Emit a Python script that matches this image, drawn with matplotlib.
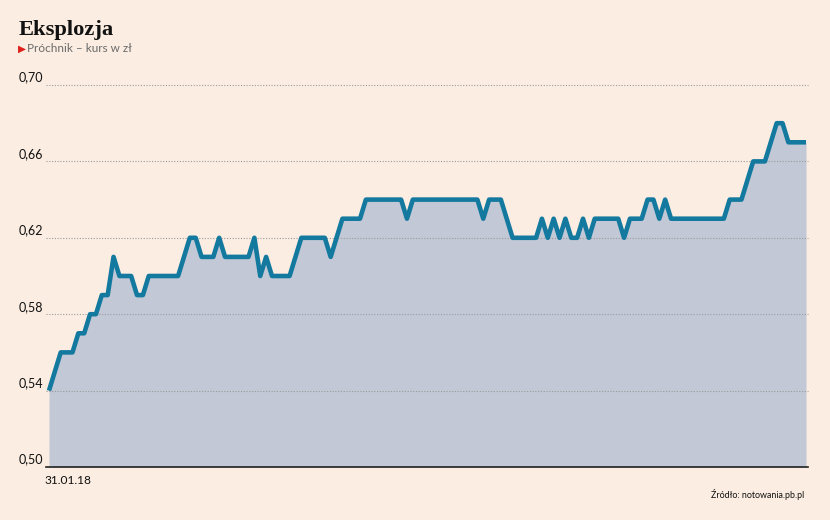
import matplotlib
matplotlib.use("Agg")
import matplotlib.pyplot as plt
import numpy as np

# ---- data (Próchnik share price, zł) ----
start_label = "31.01.18"
y_ticks = [0.50, 0.54, 0.58, 0.62, 0.66, 0.70]
y_tick_labels = ["0,50", "0,54", "0,58", "0,62", "0,66", "0,70"]

prices = (
    [0.54, 0.55, 0.56, 0.56, 0.56, 0.57, 0.57, 0.58, 0.58, 0.59,
     0.59, 0.61, 0.60, 0.60, 0.60, 0.59, 0.59, 0.60, 0.60, 0.60,
     0.60, 0.60, 0.60, 0.61, 0.62, 0.62, 0.61, 0.61, 0.61, 0.62,
     0.61, 0.61, 0.61, 0.61, 0.61, 0.62, 0.60, 0.61, 0.60, 0.60,
     0.60, 0.60, 0.61, 0.62, 0.62, 0.62, 0.62, 0.62, 0.61, 0.62,
     0.63, 0.63, 0.63, 0.63, 0.64, 0.64, 0.64, 0.64, 0.64, 0.64,
     0.64, 0.63, 0.64, 0.64, 0.64, 0.64, 0.64, 0.64, 0.64, 0.64,
     0.64, 0.64, 0.64, 0.64, 0.63, 0.64, 0.64, 0.64, 0.63, 0.62,
     0.62, 0.62, 0.62, 0.62, 0.63, 0.62, 0.63, 0.62, 0.63, 0.62,
     0.62, 0.63, 0.62, 0.63, 0.63, 0.63, 0.63, 0.63, 0.62, 0.63,
     0.63, 0.63, 0.64, 0.64, 0.63, 0.64, 0.63, 0.63, 0.63, 0.63,
     0.63, 0.63, 0.63, 0.63, 0.63, 0.63, 0.64, 0.64, 0.64, 0.65,
     0.66, 0.66, 0.66, 0.67, 0.68, 0.68, 0.67, 0.67, 0.67, 0.67]
)

BG = "#FBEDE1"
FILL = "#C2C8D6"
LINE = "#13799F"

fig = plt.figure(figsize=(8.3, 5.2), dpi=100, facecolor=BG)
ax = fig.add_axes([46 / 830, (520 - 467) / 520, 762 / 830, (467 - 85) / 520])
ax.set_facecolor(BG)

x = np.arange(len(prices))
ax.fill_between(x, 0.50, prices, color=FILL, linewidth=0, zorder=1)
ax.plot(x, prices, color=LINE, linewidth=3.3, solid_joinstyle="round",
        solid_capstyle="butt", zorder=3)

ax.set_xlim(-0.51, len(prices) - 1 + 0.34)
ax.set_ylim(0.50, 0.70)

for t in y_ticks[1:]:
    ax.axhline(t, color="#9a9a9a", linewidth=0.8, linestyle=(0, (1, 1.5)),
               zorder=2, clip_on=False)
ax.axhline(0.50, color="#222222", linewidth=1.2, zorder=4, clip_on=False)

for s in ax.spines.values():
    s.set_visible(False)
ax.set_xticks([])
ax.set_yticks([])

font = "Lato"
for t, lab in zip(y_ticks, y_tick_labels):
    ax.text(-0.51 - 0.5, t + 0.0008, lab, ha="right", va="bottom",
            fontsize=9, family=font, color="#111111")

fig.text(44 / 830, 1 - 481 / 520, start_label, ha="left", va="center",
         fontsize=8.6, family=font, color="#111111")

fig.text(19 / 830, 1 - 30 / 520, "Eksplozja", ha="left", va="center",
         fontsize=16.2, family="Liberation Serif", fontweight="bold",
         color="#111111")
fig.text(18 / 830, 1 - 49 / 520, "\u25B6", ha="left", va="center",
         fontsize=7.5, family="DejaVu Sans", color="#E0201B")
fig.text(27 / 830, 1 - 49 / 520, "Próchnik – kurs w zł", ha="left",
         va="center", fontsize=8.5, family=font, color="#6b6b6b")

fig.text(804 / 830, 1 - 495 / 520, "Źródło: notowania.pb.pl", ha="right",
         va="center", fontsize=6.4, family=font, color="#111111")

fig.savefig("out.png", dpi=100, facecolor=BG)
